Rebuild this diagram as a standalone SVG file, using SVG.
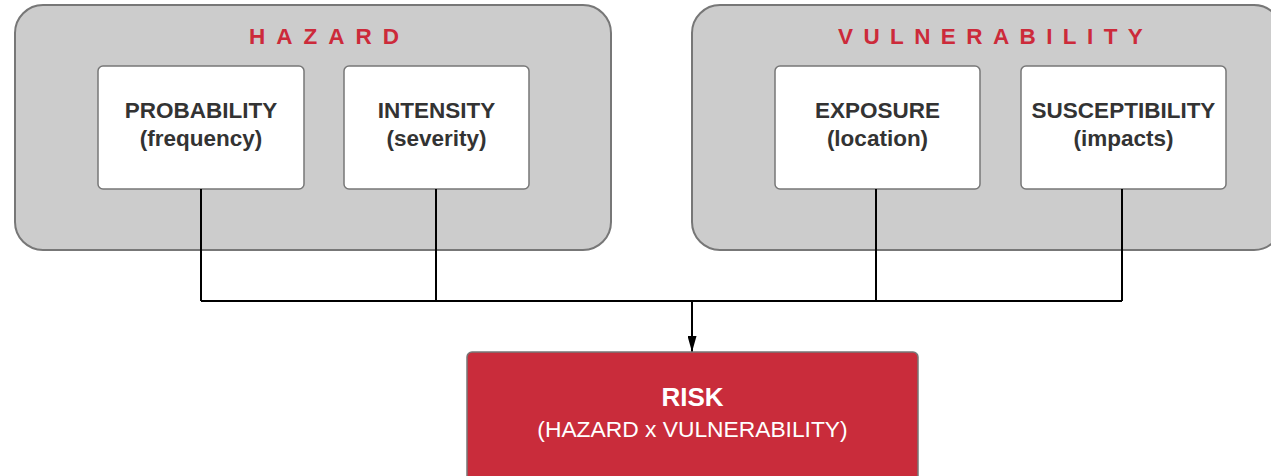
<svg xmlns="http://www.w3.org/2000/svg" width="1271" height="476" viewBox="0 0 1271 476">
  <defs>
    <marker id="arrow" viewBox="0 0 10 10" refX="10" refY="5" markerWidth="16" markerHeight="9" markerUnits="userSpaceOnUse" orient="auto" preserveAspectRatio="none">
      <path d="M0,0 L10,5 L0,10 z" fill="#000"/>
    </marker>
  </defs>
  <style>
    .group { fill: #cccccc; stroke: #777777; stroke-width: 2; }
    .box { fill: #ffffff; stroke: #777777; stroke-width: 1.5; }
    .risk { fill: #c92c3b; stroke: #777777; stroke-width: 1.5; }
    .title { font-family: "Liberation Sans", Arial, sans-serif; font-weight: bold; font-size: 22.5px; fill: #cc2a3a; }
    .label { font-family: "Liberation Sans", Arial, sans-serif; font-weight: bold; font-size: 22.5px; fill: #333333; text-anchor: middle; }
    .risk-title { font-family: "Liberation Sans", Arial, sans-serif; font-weight: bold; font-size: 26px; fill: #ffffff; text-anchor: middle; }
    .risk-sub { font-family: "Liberation Sans", Arial, sans-serif; font-size: 22.8px; fill: #ffffff; text-anchor: middle; }
    .wire { fill: none; stroke: #000000; stroke-width: 2; }
  </style>

  <!-- Hazard container -->
  <g id="hazard">
    <rect class="group" x="15" y="5" width="596" height="245" rx="28" ry="28"/>
    <text class="title" x="249" y="44" letter-spacing="11">HAZARD</text>
  </g>

  <!-- Vulnerability container -->
  <g id="vulnerability">
    <rect class="group" x="692" y="5" width="590" height="245" rx="28" ry="28"/>
    <text class="title" x="838" y="44" letter-spacing="10.4">VULNERABILITY</text>
  </g>

  <g id="probability">
    <rect class="box" x="98" y="66" width="206" height="123" rx="5" ry="5"/>
    <text class="label" x="201" y="118">PROBABILITY</text>
    <text class="label" x="201" y="146">(frequency)</text>
  </g>

  <g id="intensity">
    <rect class="box" x="344" y="66" width="185" height="123" rx="5" ry="5"/>
    <text class="label" x="436.5" y="118">INTENSITY</text>
    <text class="label" x="436.5" y="146">(severity)</text>
  </g>

  <g id="exposure">
    <rect class="box" x="775" y="66" width="205" height="123" rx="5" ry="5"/>
    <text class="label" x="877.5" y="118">EXPOSURE</text>
    <text class="label" x="877.5" y="146">(location)</text>
  </g>

  <g id="susceptibility">
    <rect class="box" x="1021" y="66" width="205" height="123" rx="5" ry="5"/>
    <text class="label" x="1123.5" y="118">SUSCEPTIBILITY</text>
    <text class="label" x="1123.5" y="146">(impacts)</text>
  </g>

  <!-- Connectors -->
  <g id="connectors">
    <path class="wire" d="M201,189 V301 M436,189 V301 M876,189 V301 M1122,189 V301 M201,301 H1122"/>
    <path class="wire" d="M692,301 V352" marker-end="url(#arrow)"/>
  </g>

  <g id="risk">
    <rect class="risk" x="467" y="352" width="451" height="130" rx="5" ry="5"/>
    <text class="risk-title" x="692.5" y="406">RISK</text>
    <text class="risk-sub" x="692.5" y="437">(HAZARD x VULNERABILITY)</text>
  </g>
</svg>
